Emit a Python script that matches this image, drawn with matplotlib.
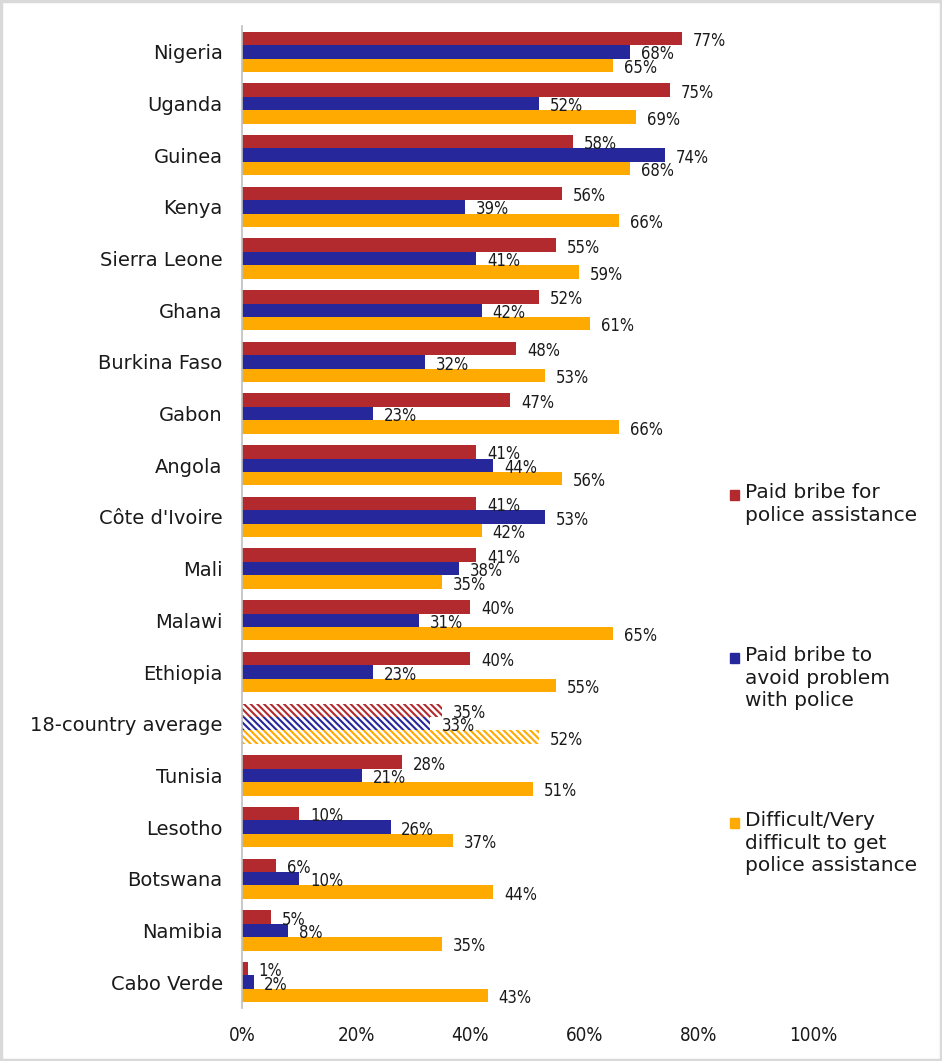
import numpy as np
import matplotlib.pyplot as plt
from matplotlib.patches import Rectangle

# Data (percent)
countries = ["Nigeria", "Uganda", "Guinea", "Kenya", "Sierra Leone", "Ghana",
             "Burkina Faso", "Gabon", "Angola", "Côte d'Ivoire", "Mali", "Malawi",
             "Ethiopia", "18-country average", "Tunisia", "Lesotho", "Botswana",
             "Namibia", "Cabo Verde"]
paid_assist = [77, 75, 58, 56, 55, 52, 48, 47, 41, 41, 41, 40, 40, 35, 28, 10, 6, 5, 1]
paid_avoid = [68, 52, 74, 39, 41, 42, 32, 23, 44, 53, 38, 31, 23, 33, 21, 26, 10, 8, 2]
difficult = [65, 69, 68, 66, 59, 61, 53, 66, 56, 42, 35, 65, 55, 52, 51, 37, 44, 35, 43]
series_names = ["Paid bribe for\npolice assistance",
                "Paid bribe to\navoid problem\nwith police",
                "Difficult/Very\ndifficult to get\npolice assistance"]
xticks = [0, 20, 40, 60, 80, 100]

colors = ["#B22A2E", "#26279A", "#FFAA00"]
avg_idx = countries.index("18-country average")

plt.rcParams['font.family'] = ['DejaVu Sans']
plt.rcParams['hatch.linewidth'] = 1.5

fig = plt.figure(figsize=(9.42, 10.61), dpi=100)
ax = fig.add_axes([0.257, 0.050, 0.606, 0.9255])

y = np.arange(len(countries))
h = 0.26
offsets = [-h, 0, h]
for vals, col, off in zip([paid_assist, paid_avoid, difficult], colors, offsets):
    for i, v in enumerate(vals):
        if i == avg_idx:
            ax.barh(y[i] + off, v, height=h, facecolor="white", edgecolor=col,
                    hatch="\\\\\\\\\\", linewidth=0)
        else:
            ax.barh(y[i] + off, v, height=h, color=col, linewidth=0)
        ax.text(v + 1.9, y[i] + off + 0.05, f"{v}%", va="center", ha="left",
                fontsize=12, color="#1a1a1a", fontstretch="condensed")

ax.set_xlim(0, 100)
ax.set_ylim(len(countries) - 0.5, -0.5)
ax.set_yticks(y)
ax.set_yticklabels(countries, fontsize=14, color="#1a1a1a")
ax.set_xticks(xticks)
ax.set_xticklabels([f"{t}%" for t in xticks], fontsize=13.5, color="#1a1a1a",
                   fontstretch="condensed")
ax.tick_params(axis="y", length=0, pad=14)
ax.tick_params(axis="x", length=0, pad=13)
for s in ["top", "right", "bottom"]:
    ax.spines[s].set_visible(False)
ax.spines["left"].set_color("#BFBFBF")
ax.spines["left"].set_linewidth(1.2)

# Legend drawn manually at the right
H = 1061.0
leg_y = [495, 658, 823]  # pixel centre of the first line of each entry
for name, col, py in zip(series_names, colors, leg_y):
    fig.patches.append(Rectangle((730 / 942, 1 - (py + 5) / H), 9 / 942, 10 / H,
                                 transform=fig.transFigure, color=col))
    fig.text(745 / 942, 1 - (py - 12) / H, name, fontsize=14.5, va="top", ha="left",
             linespacing=1.24, color="#1a1a1a")

# Outer border
fig.patches.append(Rectangle((0.001, 0.001), 0.998, 0.998, transform=fig.transFigure,
                             fill=False, edgecolor="#D9D9D9", linewidth=2.5))

fig.savefig("out.png", dpi=100)
